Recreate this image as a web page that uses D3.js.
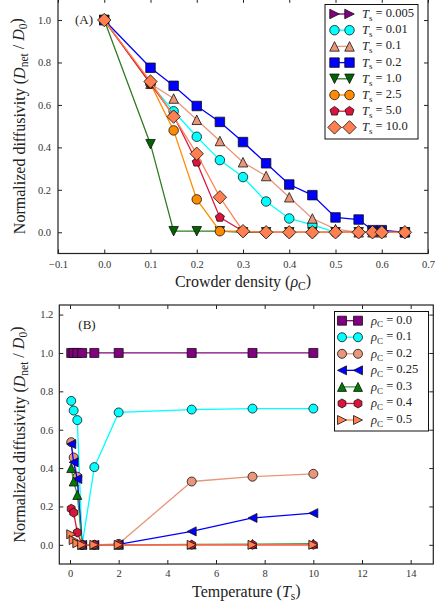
<!DOCTYPE html>
<html>
<head>
<meta charset="utf-8">
<script src="https://cdn.jsdelivr.net/npm/d3@7"></script>
<style>
body { margin: 0; background: #fff; }
text { font-family: "Liberation Serif", "DejaVu Serif", serif; fill: #222; }
</style>
</head>
<body>
<svg id="chart" width="435" height="607"></svg>
<script>
// ---- panel A data: diffusivity vs crowder density, one series per Ts ----
var densities = [0, 0.1, 0.15, 0.2, 0.25, 0.3, 0.35, 0.4, 0.45, 0.5, 0.55, 0.58, 0.6, 0.65];
var ts0005 = [1.0, null, null, null, null, null, null, null, null, null, null, null, null, null];
var ts001  = [1.0, 0.70, 0.57, 0.45, 0.34, 0.26, 0.145, 0.065, 0.035, 0.0, 0.0, 0.0, 0.0, 0.0];
var ts01   = [1.0, 0.70, 0.63, 0.53, 0.43, 0.33, 0.265, 0.165, 0.065, 0.015, 0.0, 0.0, 0.0, 0.0];
var ts02   = [1.0, 0.775, 0.69, 0.595, 0.52, 0.425, 0.325, 0.225, 0.175, 0.07, 0.06, 0.01, 0.01, 0.0];
var ts1    = [1.0, 0.415, 0.005, 0.005, 0.005, 0.0, 0.0, 0.0, 0.0, 0.0, 0.0, 0.0, 0.0, 0.0];
var ts25   = [1.0, 0.70, 0.48, 0.155, 0.005, 0.005, 0.0, 0.0, 0.0, 0.0, 0.0, 0.0, 0.0, 0.0];
var ts5    = [1.0, 0.70, 0.55, 0.33, 0.07, 0.005, 0.0, 0.0, 0.0, 0.0, 0.0, 0.0, 0.0, 0.0];
var ts10   = [1.0, 0.71, 0.545, 0.37, 0.165, 0.005, 0.0, 0.0, 0.0, 0.0, 0.0, 0.0, 0.0, 0.0];
var tsLabels = ['0.005', '0.01', '0.1', '0.2', '1.0', '2.5', '5.0', '10.0'];

// ---- panel B data: diffusivity vs temperature, one series per rho_C ----
var temps = [0.05, 0.15, 0.3, 0.5, 1.0, 2.0, 5.0, 7.5, 10.0];
var rho00  = [1.0, 1.0, 1.0, 1.0, 1.0, 1.0, 1.0, 1.0, 1.0];
var rho01  = [0.75, 0.70, 0.65, 0.0, 0.405, 0.69, 0.705, 0.71, 0.71];
var rho02  = [0.535, 0.455, 0.355, 0.0, 0.0, 0.005, 0.33, 0.355, 0.37];
var rho025 = [0.525, 0.43, 0.343, 0.0, 0.0, 0.002, 0.07, 0.14, 0.165];
var rho03  = [0.40, 0.33, 0.26, 0.0, 0.0, 0.0, 0.002, 0.004, 0.006];
var rho04  = [0.188, 0.168, 0.064, 0.0, 0.0, 0.0, 0.0, 0.0, 0.0];
var rho05  = [0.055, 0.025, 0.008, 0.0, 0.0, 0.0, 0.0, 0.0, 0.0];
var rhoLabels = ['0.0', '0.1', '0.2', '0.25', '0.3', '0.4', '0.5'];

var svg = d3.select('#chart');

// marker path, m is the marker size in px (matplotlib style)
function marker(shape, m) {
  var p = d3.path(), h = m / 2;
  function poly(n, r, rot) {
    for (var i = 0; i < n; i++) {
      var a = rot + i * 2 * Math.PI / n;
      var px = r * Math.sin(a), py = -r * Math.cos(a);
      if (i == 0) p.moveTo(px, py); else p.lineTo(px, py);
    }
    p.closePath();
  }
  if (shape == 'circle') { p.arc(0, 0, h, 0, 2 * Math.PI); }
  else if (shape == 'square') { p.rect(-h, -h, m, m); }
  else if (shape == 'diamond') { poly(4, m / Math.SQRT2, 0); }
  else if (shape == 'pentagon') { poly(5, h, 0); }
  else if (shape == 'hexagon') { poly(6, h, 0); }
  else {
    var pts = {up: [[0, -h], [-h, h], [h, h]], down: [[0, h], [-h, -h], [h, -h]],
               left: [[-h, 0], [h, -h], [h, h]], right: [[h, 0], [-h, -h], [-h, h]]}[shape];
    p.moveTo(pts[0][0], pts[0][1]); p.lineTo(pts[1][0], pts[1][1]); p.lineTo(pts[2][0], pts[2][1]); p.closePath();
  }
  return p.toString();
}

function sub(sel, parts) {
  // parts: [text, style] with style 'i' italic, 's' subscript, 'u' back to baseline
  parts.forEach(function(pt) {
    var t = sel.append('tspan').text(pt[0]);
    if (pt[1] == 'i') t.attr('font-style', 'italic');
    if (pt[1] == 's') t.attr('font-size', '0.72em').attr('dy', '0.3em');
    if (pt[1] == 'u') t.attr('dy', '-0.3em');
  });
}

function drawPanel(cfg) {
  var g = svg.append('g');
  var x = cfg.x, y = cfg.y;
  var x0 = x.range()[0], x1 = x.range()[1], y0 = y.range()[0], y1 = y.range()[1];

  var clipId = 'clip' + cfg.name;
  svg.append('clipPath').attr('id', clipId).append('rect')
    .attr('x', x0).attr('y', y1).attr('width', x1 - x0).attr('height', y0 - y1);

  var plot = g.append('g').attr('clip-path', 'url(#' + clipId + ')');
  cfg.series.forEach(function(s) {
    var pts = cfg.xs.map(function(v, i) { return [v, s.values[i]]; });
    var line = d3.line().defined(function(d) { return d[1] != null; })
      .x(function(d) { return x(d[0]); }).y(function(d) { return y(d[1]); });
    plot.append('path').attr('d', line(pts)).attr('fill', 'none')
      .attr('stroke', s.line || s.color).attr('stroke-width', 1.3);
    plot.selectAll(null).data(pts.filter(function(d) { return d[1] != null; }))
      .enter().append('path')
      .attr('d', marker(s.shape, cfg.m))
      .attr('transform', function(d) { return 'translate(' + x(d[0]) + ',' + y(d[1]) + ')'; })
      .attr('fill', s.color).attr('stroke', '#111').attr('stroke-width', 0.8);
  });

  // axes, ticks pointing in on all four sides
  g.append('g').attr('transform', 'translate(0,' + y0 + ')')
    .call(d3.axisBottom(x).tickValues(cfg.xticks).tickFormat(cfg.xfmt).tickSizeInner(-4).tickSizeOuter(0).tickPadding(cfg.xpad));
  g.append('g').attr('transform', 'translate(0,' + y1 + ')')
    .call(d3.axisTop(x).tickValues(cfg.xticks).tickFormat('').tickSizeInner(-4).tickSizeOuter(0));
  g.append('g').attr('transform', 'translate(' + x0 + ',0)')
    .call(d3.axisLeft(y).tickValues(cfg.yticks).tickFormat(d3.format('.1f')).tickSizeInner(-4).tickSizeOuter(0).tickPadding(cfg.ypad));
  g.append('g').attr('transform', 'translate(' + x1 + ',0)')
    .call(d3.axisRight(y).tickValues(cfg.yticks).tickFormat('').tickSizeInner(-4).tickSizeOuter(0));
  g.selectAll('.domain').remove();
  g.selectAll('.tick line').attr('stroke', '#222');
  g.selectAll('.tick text')
    .style('font-family', '"Liberation Serif", "DejaVu Serif", serif')
    .style('font-size', '10.5px').style('fill', '#333');
  g.append('rect').attr('x', x0).attr('y', y1).attr('width', x1 - x0).attr('height', y0 - y1)
    .attr('fill', 'none').attr('stroke', '#222').attr('stroke-width', 1.2);

  g.append('text').attr('x', cfg.tagX).attr('y', cfg.tagY).attr('font-size', 13)
    .attr('text-anchor', 'middle').text(cfg.tag);

  // axis titles
  var xt = g.append('text').attr('x', (x0 + x1) / 2).attr('y', cfg.xlabelY)
    .attr('text-anchor', 'middle').attr('font-size', 16);
  sub(xt, cfg.xlabel);
  var yt = g.append('text').attr('transform', 'translate(' + 25 + ',' + (y0 + y1) / 2 + ') rotate(-90)')
    .attr('text-anchor', 'middle').attr('font-size', 16);
  sub(yt, [['Normalized diffusivity (', ''], ['D', 'i'], ['net', 's'], [' / ', 'u'], ['D', 'i'], ['0', 's'], [')', 'u']]);

  // legend
  var L = cfg.legend;
  g.append('rect').attr('x', L.x).attr('y', L.y).attr('width', L.w).attr('height', L.h)
    .attr('fill', '#fff').attr('stroke', '#111').attr('stroke-width', 1);
  cfg.series.forEach(function(s, i) {
    var ry = L.row0 + i * L.step;
    g.append('line').attr('x1', L.m1).attr('x2', L.m2).attr('y1', ry).attr('y2', ry)
      .attr('stroke', s.line || s.color).attr('stroke-width', 1.3);
    [L.m1, L.m2].forEach(function(mx) {
      g.append('path').attr('d', marker(s.shape, cfg.m)).attr('transform', 'translate(' + mx + ',' + ry + ')')
        .attr('fill', s.color).attr('stroke', '#111').attr('stroke-width', 0.8);
    });
    var t = g.append('text').attr('x', L.tx).attr('y', ry + 4).attr('font-size', 12.5);
    sub(t, [[cfg.legendSym, 'i'], [cfg.legendSub, 's'], [' = ' + cfg.labels[i], 'u']]);
  });
}

drawPanel({
  name: 'A',
  x: d3.scaleLinear().domain([-0.1, 0.7]).range([58, 428]),
  y: d3.scaleLinear().domain([-0.1, 1.1]).range([253.5, -1.2]),
  xs: densities,
  m: 9.5,
  xticks: d3.range(-0.1, 0.71, 0.1).map(function(v) { return +v.toFixed(1); }),
  xfmt: function(d) { return d3.format('.1f')(d).replace('-', '\u2212'); },
  yticks: [0, 0.2, 0.4, 0.6, 0.8, 1.0],
  xpad: 7, ypad: 7,
  tag: '(A)', tagX: 84, tagY: 24,
  xlabelY: 287,
  xlabel: [['Crowder density (', ''], ['\u03c1', 'i'], ['C', 's'], [')', 'u']],
  labels: tsLabels, legendSym: 'T', legendSub: 's',
  legend: {x: 325, y: 4.5, w: 93, h: 134.5, row0: 14, step: 16.2, m1: 334.5, m2: 349.5, tx: 362},
  series: [
    {values: ts0005, color: '#800080', shape: 'right'},
    {values: ts001, color: '#00ffff', shape: 'circle'},
    {values: ts01, color: '#e9967a', shape: 'up'},
    {values: ts02, color: '#0000ff', shape: 'square'},
    {values: ts1, color: '#006400', line: '#2e7d1e', shape: 'down'},
    {values: ts25, color: '#ff8c00', shape: 'circle'},
    {values: ts5, color: '#dc143c', shape: 'pentagon'},
    {values: ts10, color: '#ff7f50', shape: 'diamond'}
  ]
});

drawPanel({
  name: 'B',
  x: d3.scaleLinear().domain([-0.44, 14.93]).range([59.3, 433.3]),
  y: d3.scaleLinear().domain([-0.1, 1.25]).range([564, 305]),
  xs: temps,
  m: 9,
  xticks: d3.range(0, 15, 2),
  xfmt: d3.format('d'),
  yticks: [0, 0.2, 0.4, 0.6, 0.8, 1.0, 1.2],
  xpad: 6, ypad: 6,
  tag: '(B)', tagX: 87, tagY: 329,
  xlabelY: 597,
  xlabel: [['Temperature (', ''], ['T', 'i'], ['s', 's'], [')', 'u']],
  labels: rhoLabels, legendSym: '\u03c1', legendSub: 'C',
  legend: {x: 334.5, y: 311.5, w: 94, h: 119.5, row0: 320.7, step: 16.55, m1: 342, m2: 358, tx: 371},
  series: [
    {values: rho00, color: '#800080', shape: 'square'},
    {values: rho01, color: '#00ffff', shape: 'circle'},
    {values: rho02, color: '#e9967a', shape: 'circle'},
    {values: rho025, color: '#0000ff', shape: 'left'},
    {values: rho03, color: '#007a00', line: '#3a9e3a', shape: 'up'},
    {values: rho04, color: '#dc143c', shape: 'hexagon'},
    {values: rho05, color: '#ff7f50', shape: 'right'}
  ]
});
</script>
</body>
</html>
